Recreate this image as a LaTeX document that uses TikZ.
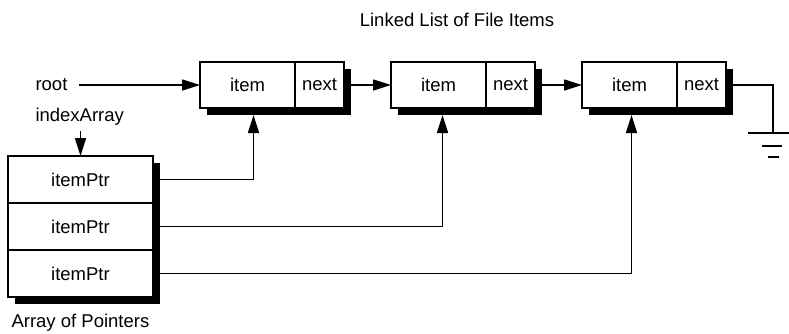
\documentclass[tikz,border=0pt]{standalone}
\usepackage{fontspec}
\setmainfont{Liberation Sans}
\usetikzlibrary{positioning,arrows.meta,shadows,calc}

\begin{document}
\begin{tikzpicture}[x=1pt, y=-1pt, >={Triangle[length=18pt,width=11pt]},
  every node/.style={font=\fontsize{18.5}{21}\selectfont},
  cell/.style={draw, line width=1.8pt, fill=white, minimum height=46pt,
               inner sep=0pt, outer sep=0pt,
               drop shadow={shadow xshift=6.5pt, shadow yshift=-7pt, opacity=1, fill=black}},
  itembox/.style={cell, minimum width=95pt},
  nextbox/.style={cell, minimum width=49pt},
  ptrbox/.style={cell, minimum width=145pt, minimum height=47pt},
  link/.style={->, line width=1.6pt}]
  \useasboundingbox (0,0) rectangle (789,333);

  \node at (457,20) {Linked List of File Items};

  % linked list
  \node[itembox] (item1) at (247.5,85) {item};
  \node[nextbox, right=0pt of item1] (next1) {next};
  \node[itembox, right=47pt of next1] (item2) {item};
  \node[nextbox, right=0pt of item2] (next2) {next};
  \node[itembox, right=47pt of next2] (item3) {item};
  \node[nextbox, right=0pt of item3] (next3) {next};

  \node[anchor=west] (root) at (32,85) {root};
  \node[anchor=west] (idx) at (32,117) {indexArray};

  % array of pointers
  \node[ptrbox] (ptr1) at (80.5,179.5) {itemPtr};
  \node[ptrbox, below=0pt of ptr1] (ptr2) {itemPtr};
  \node[ptrbox, below=0pt of ptr2] (ptr3) {itemPtr};
  \node[anchor=west] (arr) at (8,323) {Array of Pointers};

  \draw[link, shorten <=8pt] (root) -- (item1);
  \draw[link] (next1) -- (item2);
  \draw[link] (next2) -- (item3);
  \draw[link, shorten <=2pt] (idx.south -| ptr1) -- (ptr1.north);
  \draw[link] (ptr1.east) -| ($(item1.south)+(6,7)$);
  \draw[link] (ptr2.east) -| ($(item2.south)+(4,7)$);
  \draw[link] (ptr3.east) -| ($(item3.south)+(2,7)$);

  % ground
  \coordinate (gnd) at (773,133);
  \draw[line width=1.6pt] (next3.east) -| (gnd);
  \draw[line width=1.8pt] ($(gnd)+(-25,0)$) -- ($(gnd)+(25,0)$)
        ($(gnd)+(-11,13)$) -- ($(gnd)+(9,13)$)
        ($(gnd)+(-5,24)$) -- ($(gnd)+(6,24)$);
\end{tikzpicture}
\end{document}
